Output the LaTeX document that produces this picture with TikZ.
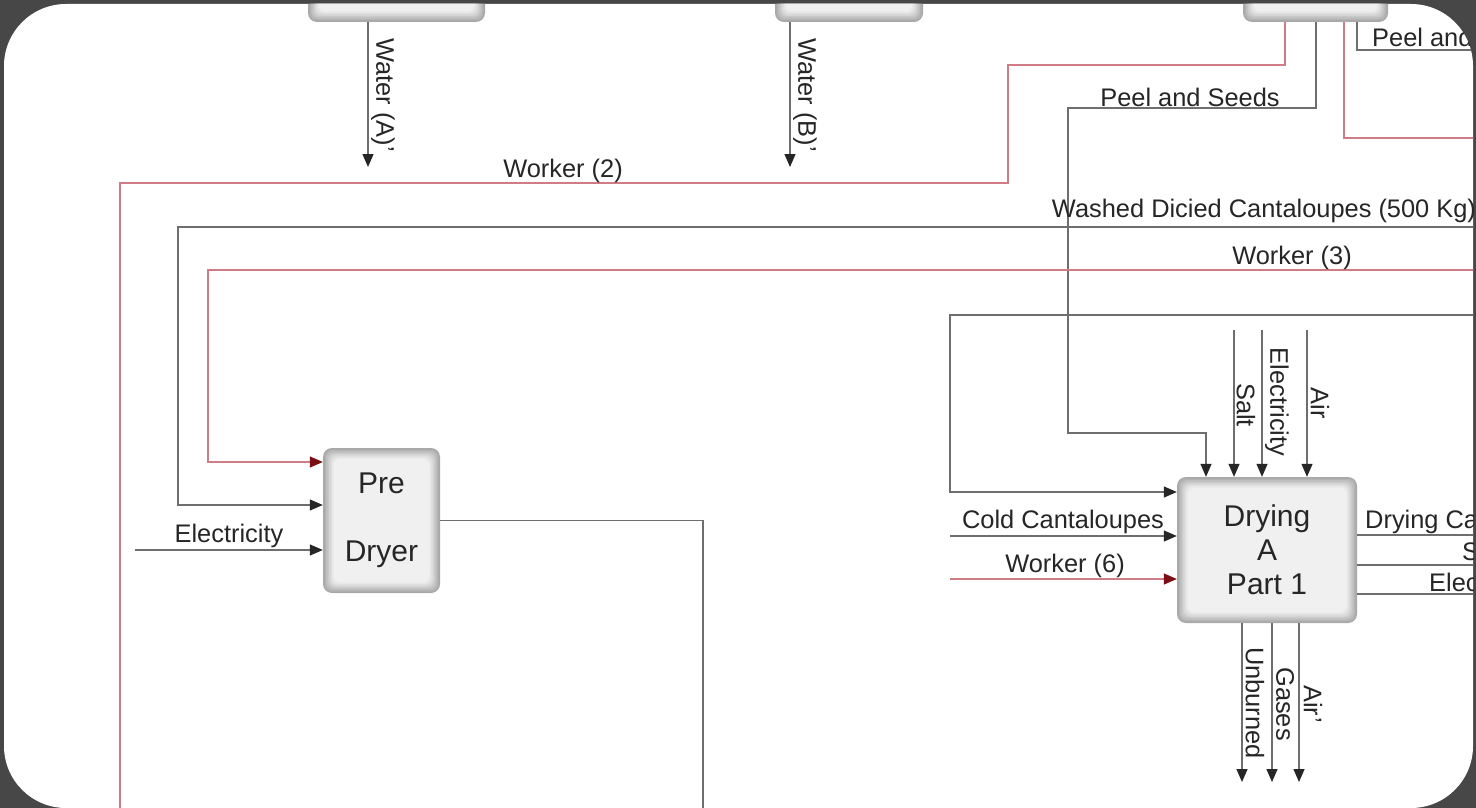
\documentclass[tikz,border=0pt]{standalone}
\usepackage{fontspec}
\setmainfont{Liberation Sans}
\usetikzlibrary{arrows.meta}
\definecolor{bgdark}{HTML}{474747}
\definecolor{gline}{HTML}{6E6E6E}
\definecolor{rline}{HTML}{CF7C86}
\definecolor{rtip}{HTML}{7A0E14}
\definecolor{txt}{HTML}{262626}
\newcommand\labfont{\fontsize{25.4}{30}\selectfont}
\newcommand\boxfont{\fontsize{30}{34}\selectfont}
\begin{document}
\begin{tikzpicture}[x=1pt,y=-1pt,
  gl/.style={draw=gline, line width=1.3pt},
  rl/.style={draw=rline, line width=1.3pt},
  garr/.style={gl,-{Triangle[length=13pt,width=11pt,color=black!85]}},
  rarr/.style={rl,-{Triangle[length=13pt,width=11pt,color=rtip]}},
  lbl/.style={font=\labfont, text=txt, inner sep=0pt},
  vlbl/.style={lbl, rotate=-90},
  procbox/.style={rounded corners=9pt, fill=gray!68, inner sep=0pt, align=center,
    font=\boxfont, text=black!85,
    path picture={
      \foreach \i/\c in {1.5/60,3/51,4.5/42,6/33,7.5/25,9/18,10.5/12}{
        \fill[gray!\c, rounded corners=7pt]
          ([xshift=\i pt,yshift=-\i pt]path picture bounding box.north west) rectangle
          ([xshift=-\i pt,yshift=\i pt]path picture bounding box.south east);
      }
    }}
]
\useasboundingbox (0,0) rectangle (1476,808);
\fill[bgdark] (0,0) rectangle (1476,808);
\fill[white, rounded corners=62pt] (4,4) rectangle (1473,808);
\begin{scope}
\clip[rounded corners=62pt] (4,4) rectangle (1473,808);

% boxes
\node[procbox, minimum width=177pt, minimum height=62pt] (b1) at (396.5,-9) {};
\node[procbox, minimum width=148pt, minimum height=62pt] (b2) at (849,-9) {};
\node[procbox, minimum width=145pt, minimum height=62pt] (b3) at (1315.5,-9) {};
\node[procbox, minimum width=117pt, minimum height=145pt] (pd) at (381.5,520.5) {Pre\\[34pt]Dryer};
\node[procbox, minimum width=180pt, minimum height=146pt] (da) at (1267,550) {Drying\\A\\Part 1};

% water outputs
\coordinate (wa) at (368,167);
\draw[garr] (b1.south -| wa) -- (wa);
\coordinate (wb) at (790,167);
\draw[garr] (b2.south -| wb) -- (wb);

% worker (2)
\coordinate (w2a) at (1285,0);
\coordinate (w2b) at (1008,65);
\coordinate (w2c) at (120,183);
\coordinate (w2d) at (120,830);
\draw[rl] (b3.south -| w2a) |- (w2b) |- (w2c) -- (w2d);

% peel and seeds
\coordinate (ps1) at (1316,0);
\coordinate (ps2) at (1068,108);
\coordinate (ps3) at (1206,433);
\draw[garr] (b3.south -| ps1) |- (ps2) |- (ps3) -- (da.north -| ps3);

% red from box 3 to right
\coordinate (r3a) at (1344,0);
\coordinate (r3b) at (1490,138);
\draw[rl] (b3.south -| r3a) |- (r3b);

% peel and (right)
\coordinate (p4a) at (1357,0);
\coordinate (p4b) at (1490,50);
\draw[gl] (b3.south -| p4a) |- (p4b);

% washed diced
\coordinate (wd0) at (1490,227);
\coordinate (wd1) at (178,505);
\draw[garr] (wd0) -| (wd1) -- (pd.west |- wd1);

% worker (3)
\coordinate (w30) at (1490,270);
\coordinate (w31) at (208,462);
\draw[rarr] (w30) -| (w31) -- (pd.west |- w31);

% electricity to pre dryer
\coordinate (el0) at (135,550);
\draw[garr] (el0) -- (pd.west |- el0);

% pre dryer output
\coordinate (po) at (703,830);
\draw[gl] (pd.east) -| (po);

% loop into drying A
\coordinate (lp0) at (1490,315);
\coordinate (lp1) at (950,492);
\draw[garr] (lp0) -| (lp1) -- (da.west |- lp1);

\coordinate (cc) at (950,536);
\draw[garr] (cc) -- (da.west |- cc);
\coordinate (w6) at (950,579);
\draw[rarr] (w6) -- (da.west |- w6);

\coordinate (sa) at (1234,330);
\draw[garr] (sa) -- (da.north -| sa);
\coordinate (ea) at (1262,330);
\draw[garr] (ea) -- (da.north -| ea);
\coordinate (aa) at (1307,330);
\draw[garr] (aa) -- (da.north -| aa);

\coordinate (uo) at (1242,782);
\draw[garr] (da.south -| uo) -- (uo);
\coordinate (go) at (1272,782);
\draw[garr] (da.south -| go) -- (go);
\coordinate (ao) at (1299,782);
\draw[garr] (da.south -| ao) -- (ao);

\coordinate (ro1) at (1490,535);
\draw[gl] (da.east |- ro1) -- (ro1);
\coordinate (ro2) at (1490,565);
\draw[gl] (da.east |- ro2) -- (ro2);
\coordinate (ro3) at (1490,594);
\draw[gl] (da.east |- ro3) -- (ro3);

% labels
\node[lbl] (lw2) at (563,171) {Worker (2)};
\node[lbl] (lps) at (1190,97) {Peel and Seeds};
\node[lbl, anchor=west] (lpa) at (1372,37) {Peel and};
\node[lbl] (lwd) at (1264,211) {Washed Dicied Cantaloupes (500 Kg)};
\node[lbl] (lw3) at (1292,258) {Worker (3)};
\node[lbl] (lel) at (229,536) {Electricity};
\node[lbl] (lcc) at (1063,522) {Cold Cantaloupes};
\node[lbl] (lw6) at (1065,566) {Worker (6)};
\node[lbl, anchor=west] (ldc) at (1365,522) {Drying Ca};
\node[lbl, anchor=west] (ls) at (1462,552) {S};
\node[lbl, anchor=west] (lel2) at (1429,582) {Elec};

\node[vlbl] (lwa) at (383,95) {Water (A)'};
\node[vlbl] (lwb) at (805,95) {Water (B)'};
\node[vlbl] (lsalt) at (1246,405) {Salt};
\node[vlbl] (lelec) at (1277,402) {Electricity};
\node[vlbl] (lair) at (1320,403) {Air};
\node[vlbl] (lun) at (1255,703) {Unburned};
\node[vlbl] (lga) at (1285,704) {Gases};
\node[vlbl] (lai) at (1313,704) {Air'};
\end{scope}
\end{tikzpicture}
\end{document}
